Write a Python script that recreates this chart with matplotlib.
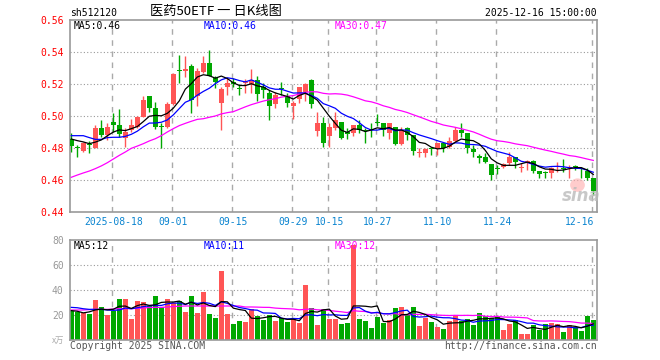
import numpy as np
import pandas as pd
import matplotlib
matplotlib.use('Agg')
import matplotlib.pyplot as plt
from matplotlib.patches import Ellipse

plt.rcParams['font.family'] = ['DejaVu Sans Mono', 'Noto Sans CJK SC']

# daily candles, sh512120, 2025-08-07 .. 2025-12-16 (88 trading days)
opens = [0.4856, 0.4804, 0.4783, 0.4827, 0.4798, 0.4923, 0.4883, 0.4963, 0.4942, 0.4860,
         0.4913, 0.4929, 0.4996, 0.5125, 0.5048, 0.4933, 0.4929, 0.5075, 0.5285, 0.5283,
         0.5313, 0.5125, 0.5273, 0.5333, 0.5235, 0.5083, 0.5179, 0.5215, 0.5173, 0.5204,
         0.5198, 0.5225, 0.5183, 0.5142, 0.5075, 0.5171, 0.5125, 0.5065, 0.5104, 0.5152,
         0.5225, 0.4908, 0.4954, 0.4875, 0.4925, 0.4965, 0.4894, 0.4896, 0.4944, 0.4910,
         0.4914, 0.4962, 0.4954, 0.4896, 0.4929, 0.4825, 0.4923, 0.4881, 0.4769, 0.4767,
         0.4800, 0.4792, 0.4831, 0.4808, 0.4846, 0.4913, 0.4892, 0.4792, 0.4744, 0.4742,
         0.4700, 0.4675, 0.4683, 0.4704, 0.4742, 0.4677, 0.4708, 0.4721, 0.4658, 0.4648,
         0.4646, 0.4681, 0.4675, 0.4677, 0.4681, 0.4675, 0.4658, 0.4610]
highs = [0.4892, 0.4817, 0.4838, 0.4844, 0.4944, 0.4975, 0.4954, 0.5017, 0.5042, 0.4923,
         0.4979, 0.5000, 0.5125, 0.5125, 0.5090, 0.4954, 0.5090, 0.5267, 0.5381, 0.5375,
         0.5325, 0.5300, 0.5373, 0.5413, 0.5250, 0.5183, 0.5235, 0.5235, 0.5200, 0.5229,
         0.5292, 0.5250, 0.5208, 0.5163, 0.5152, 0.5210, 0.5142, 0.5096, 0.5183, 0.5204,
         0.5229, 0.5027, 0.4992, 0.4958, 0.5027, 0.4965, 0.4923, 0.4944, 0.4975, 0.4923,
         0.4954, 0.5013, 0.4954, 0.4954, 0.4929, 0.4929, 0.4929, 0.4881, 0.4798, 0.4798,
         0.4808, 0.4833, 0.4833, 0.4871, 0.4929, 0.4954, 0.4892, 0.4819, 0.4763, 0.4767,
         0.4700, 0.4694, 0.4704, 0.4777, 0.4746, 0.4704, 0.4725, 0.4725, 0.4658, 0.4658,
         0.4683, 0.4713, 0.4729, 0.4694, 0.4694, 0.4683, 0.4673, 0.4610]
lows = [0.4777, 0.4742, 0.4775, 0.4771, 0.4798, 0.4871, 0.4850, 0.4902, 0.4871, 0.4808,
        0.4902, 0.4923, 0.4992, 0.5027, 0.4917, 0.4798, 0.4923, 0.5069, 0.5208, 0.5246,
        0.5021, 0.5060, 0.5267, 0.5252, 0.5173, 0.4913, 0.5131, 0.5179, 0.5131, 0.5142,
        0.5142, 0.5096, 0.5110, 0.4975, 0.5048, 0.5130, 0.5058, 0.4979, 0.5079, 0.5096,
        0.5048, 0.4875, 0.4808, 0.4808, 0.4910, 0.4854, 0.4854, 0.4875, 0.4892, 0.4829,
        0.4867, 0.4938, 0.4875, 0.4854, 0.4819, 0.4819, 0.4850, 0.4756, 0.4742, 0.4742,
        0.4756, 0.4756, 0.4777, 0.4798, 0.4840, 0.4871, 0.4771, 0.4746, 0.4708, 0.4704,
        0.4600, 0.4638, 0.4673, 0.4694, 0.4673, 0.4652, 0.4663, 0.4646, 0.4610, 0.4610,
        0.4610, 0.4652, 0.4652, 0.4610, 0.4663, 0.4610, 0.4600, 0.4506]
closes = [0.4813, 0.4800, 0.4829, 0.4817, 0.4925, 0.4881, 0.4929, 0.4946, 0.4885, 0.4902,
          0.4942, 0.4996, 0.5100, 0.5052, 0.4929, 0.4929, 0.5073, 0.5262, 0.5281, 0.5294,
          0.5100, 0.5281, 0.5333, 0.5252, 0.5215, 0.5167, 0.5204, 0.5200, 0.5169, 0.5210,
          0.5225, 0.5138, 0.5163, 0.5065, 0.5131, 0.5167, 0.5083, 0.5083, 0.5179, 0.5200,
          0.5075, 0.4958, 0.4833, 0.4929, 0.4975, 0.4860, 0.4890, 0.4944, 0.4913, 0.4906,
          0.4910, 0.4958, 0.4913, 0.4954, 0.4825, 0.4913, 0.4881, 0.4783, 0.4773, 0.4792,
          0.4796, 0.4829, 0.4798, 0.4842, 0.4915, 0.4896, 0.4798, 0.4777, 0.4740, 0.4715,
          0.4631, 0.4671, 0.4700, 0.4742, 0.4715, 0.4681, 0.4721, 0.4658, 0.4638, 0.4644,
          0.4673, 0.4685, 0.4671, 0.4681, 0.4679, 0.4671, 0.4610, 0.4533]
# volume, x10k
volumes = [23.5, 22.7, 21.3, 20.8, 32.0, 26.7, 20.0, 23.5, 32.8, 32.8,
           17.1, 31.2, 30.1, 27.2, 35.2, 26.7, 32.8, 29.9, 31.2, 22.4,
           35.2, 21.6, 38.1, 20.8, 17.9, 55.2, 20.8, 12.8, 15.2, 14.1,
           24.5, 19.2, 16.0, 19.7, 15.2, 17.3, 14.4, 16.5, 13.6, 44.0,
           25.6, 12.0, 25.1, 16.8, 16.5, 12.8, 14.0, 76.0, 17.0, 15.3,
           9.6, 18.5, 13.8, 16.0, 26.0, 26.5, 20.0, 26.5, 11.3, 18.0,
           14.4, 10.5, 9.0, 15.5, 19.3, 15.0, 17.0, 12.0, 21.3, 19.2,
           17.3, 18.7, 8.0, 12.8, 16.0, 4.8, 4.8, 12.0, 8.0, 12.8,
           13.3, 12.8, 6.4, 12.0, 10.1, 7.5, 19.2, 16.0]

# moving averages before the window starts
ma5_head = [0.4856, 0.4846, 0.4838, 0.4827]
ma10_head = [0.4877, 0.4877, 0.4877, 0.4865, 0.4854, 0.4854, 0.4865, 0.4867, 0.4867]
ma30_head = [0.4617, 0.4631, 0.4644, 0.4656, 0.4671, 0.4688, 0.4708, 0.4731, 0.4754, 0.4775,
             0.4798, 0.4812, 0.4827, 0.4844, 0.4858, 0.4877, 0.4900, 0.4921, 0.4940, 0.4954,
             0.4967, 0.4979, 0.4983, 0.4992, 0.5000, 0.5013, 0.5021, 0.5027, 0.5042]
vma5_head = [23.5, 23.0, 21.7, 22.5]
vma10_head = [26.1, 25.8, 25.0, 24.5, 24.5, 24.5, 24.0, 23.7, 24.0]
vma30_head = [24.0, 24.0, 24.0, 24.3, 24.5, 24.5, 24.5, 24.8, 25.1, 25.1,
              25.1, 25.3, 25.6, 26.0, 26.1, 26.1, 26.4, 26.8, 27.0, 27.2,
              27.2, 27.2, 27.2, 27.2, 27.2, 27.2, 27.2, 27.2, 27.2]

tick_idx = [7, 17, 27, 37, 43, 51, 61, 71, 87]
tick_lbl = ['2025-08-18', '09-01', '09-15', '09-29', '10-15', '10-27', '11-10', '11-24', '12-16']

RED = '#ff5555'
GREEN = '#00a800'
GRID = '#aaaaaa'


def ma(vals, n, head):
    s = pd.Series(vals).rolling(n).mean().to_numpy()
    s[:len(head)] = head
    return s


o = np.array(opens); h = np.array(highs); l = np.array(lows); c = np.array(closes)
v = np.array(volumes)
x = np.arange(len(c))
up = c >= o
cols = np.where(up, RED, GREEN)

W, H = 660, 360
fig = plt.figure(figsize=(6.6, 3.6), dpi=100)
ax = fig.add_axes([70/W, 1-212/H, 527/W, 192/H])
axv = fig.add_axes([70/W, 1-340/H, 527/W, 100/H])

for a in (ax, axv):
    a.set_xlim(-0.22, 87.62)
    for s in a.spines.values():
        s.set_color('#999999')
        s.set_linewidth(1.2)
    for t in tick_idx:
        a.axvline(t - 0.15, color=GRID, lw=1, ls=(0, (4, 4)), zorder=0)
    a.set_xticks([])

# price panel
ax.set_ylim(0.44, 0.56)
for yy in [0.46, 0.48, 0.50, 0.52, 0.54]:
    ax.axhline(yy, color='#999999', lw=0.8, ls=(0, (1, 2)), zorder=0)
ax.set_yticks(np.arange(0.44, 0.5601, 0.02))
ax.set_yticklabels(['%.2f' % t for t in np.arange(0.44, 0.5601, 0.02)], color='red', fontsize=7)
ax.tick_params(axis='y', length=0, pad=4.5)

# sina watermark
fig.text(581/W, 1-196/H, 'sina', fontsize=12, style='italic', weight='bold', color='#bbbbbb',
         family='DejaVu Sans', ha='center', va='center', alpha=0.8, zorder=0)
ax.add_patch(Ellipse((0.963, 0.14), 0.028, 0.07, transform=ax.transAxes,
                     color='#ffaaaa', alpha=0.6, lw=0, zorder=1))

ax.vlines(x, l, h, colors=cols, lw=1, zorder=2)
body = np.maximum(np.abs(c - o), 0.0007)
ax.bar(x, body, bottom=np.minimum(o, c), width=0.8, color=cols, lw=0, zorder=3)

ax.plot(x, ma(c, 30, ma30_head), color='#ff00ff', lw=0.9, zorder=4)
ax.plot(x, ma(c, 10, ma10_head), color='#0000ff', lw=0.9, zorder=5)
ax.plot(x, ma(c, 5, ma5_head), color='black', lw=0.9, zorder=6)

# volume panel
axv.set_ylim(0, 80)
for yy in [20, 40, 60]:
    axv.axhline(yy, color='#999999', lw=0.8, ls=(0, (1, 2)), zorder=0)
axv.set_yticks([20, 40, 60, 80])
axv.set_yticklabels(['20', '40', '60', '80'], color='#999999', fontsize=7)
axv.tick_params(axis='y', length=0, pad=4.5)
axv.bar(x, v, width=0.85, color=cols, lw=0, zorder=2)
axv.plot(x, ma(v, 30, vma30_head), color='#ff00ff', lw=0.9, zorder=4)
axv.plot(x, ma(v, 10, vma10_head), color='#0000ff', lw=0.9, zorder=5)
axv.plot(x, ma(v, 5, vma5_head), color='black', lw=0.9, zorder=6)

# date labels
for t, s in zip(tick_idx, tick_lbl):
    ha = 'right' if t == tick_idx[-1] else 'center'
    xx = t + 0.15 if ha == 'right' else t
    ax.text(xx, 0.44 - 0.0063, s, color='#0a84d0', fontsize=7, ha=ha, va='center')

# header and legends
fig.text(70/W, 1-13/H, 'sh512120', fontsize=7, ha='left', va='center')
fig.text(216/W, 1-12/H, '医药50ETF 一 日K线图', fontsize=9.5, ha='center', va='center',
         family=['Noto Sans CJK SC', 'DejaVu Sans'])
fig.text(597/W, 1-13/H, '2025-12-16 15:00:00', fontsize=7, ha='right', va='center')

fig.text(74/W, 1-26/H, 'MA5:0.46', fontsize=7, color='black', va='center')
fig.text(204/W, 1-26/H, 'MA10:0.46', fontsize=7, color='#0000ff', va='center')
fig.text(335/W, 1-26/H, 'MA30:0.47', fontsize=7, color='#ff00ff', va='center')
fig.text(74/W, 1-246/H, 'MA5:12', fontsize=7, color='black', va='center')
fig.text(204/W, 1-246/H, 'MA10:11', fontsize=7, color='#0000ff', va='center')
fig.text(335/W, 1-246/H, 'MA30:12', fontsize=7, color='#ff00ff', va='center')

fig.text(64/W, 1-340/H, 'x万', fontsize=6, color='#aaaaaa', ha='right', va='center',
         family=['Noto Sans CJK SC', 'DejaVu Sans'])
fig.text(70/W, 1-346/H, 'Copyright 2025 SINA.COM', fontsize=7, color='#555555', va='center')
fig.text(597/W, 1-346/H, 'http://finance.sina.com.cn', fontsize=7, color='#555555',
         ha='right', va='center')

fig.savefig('out.png', dpi=100, facecolor='white')
